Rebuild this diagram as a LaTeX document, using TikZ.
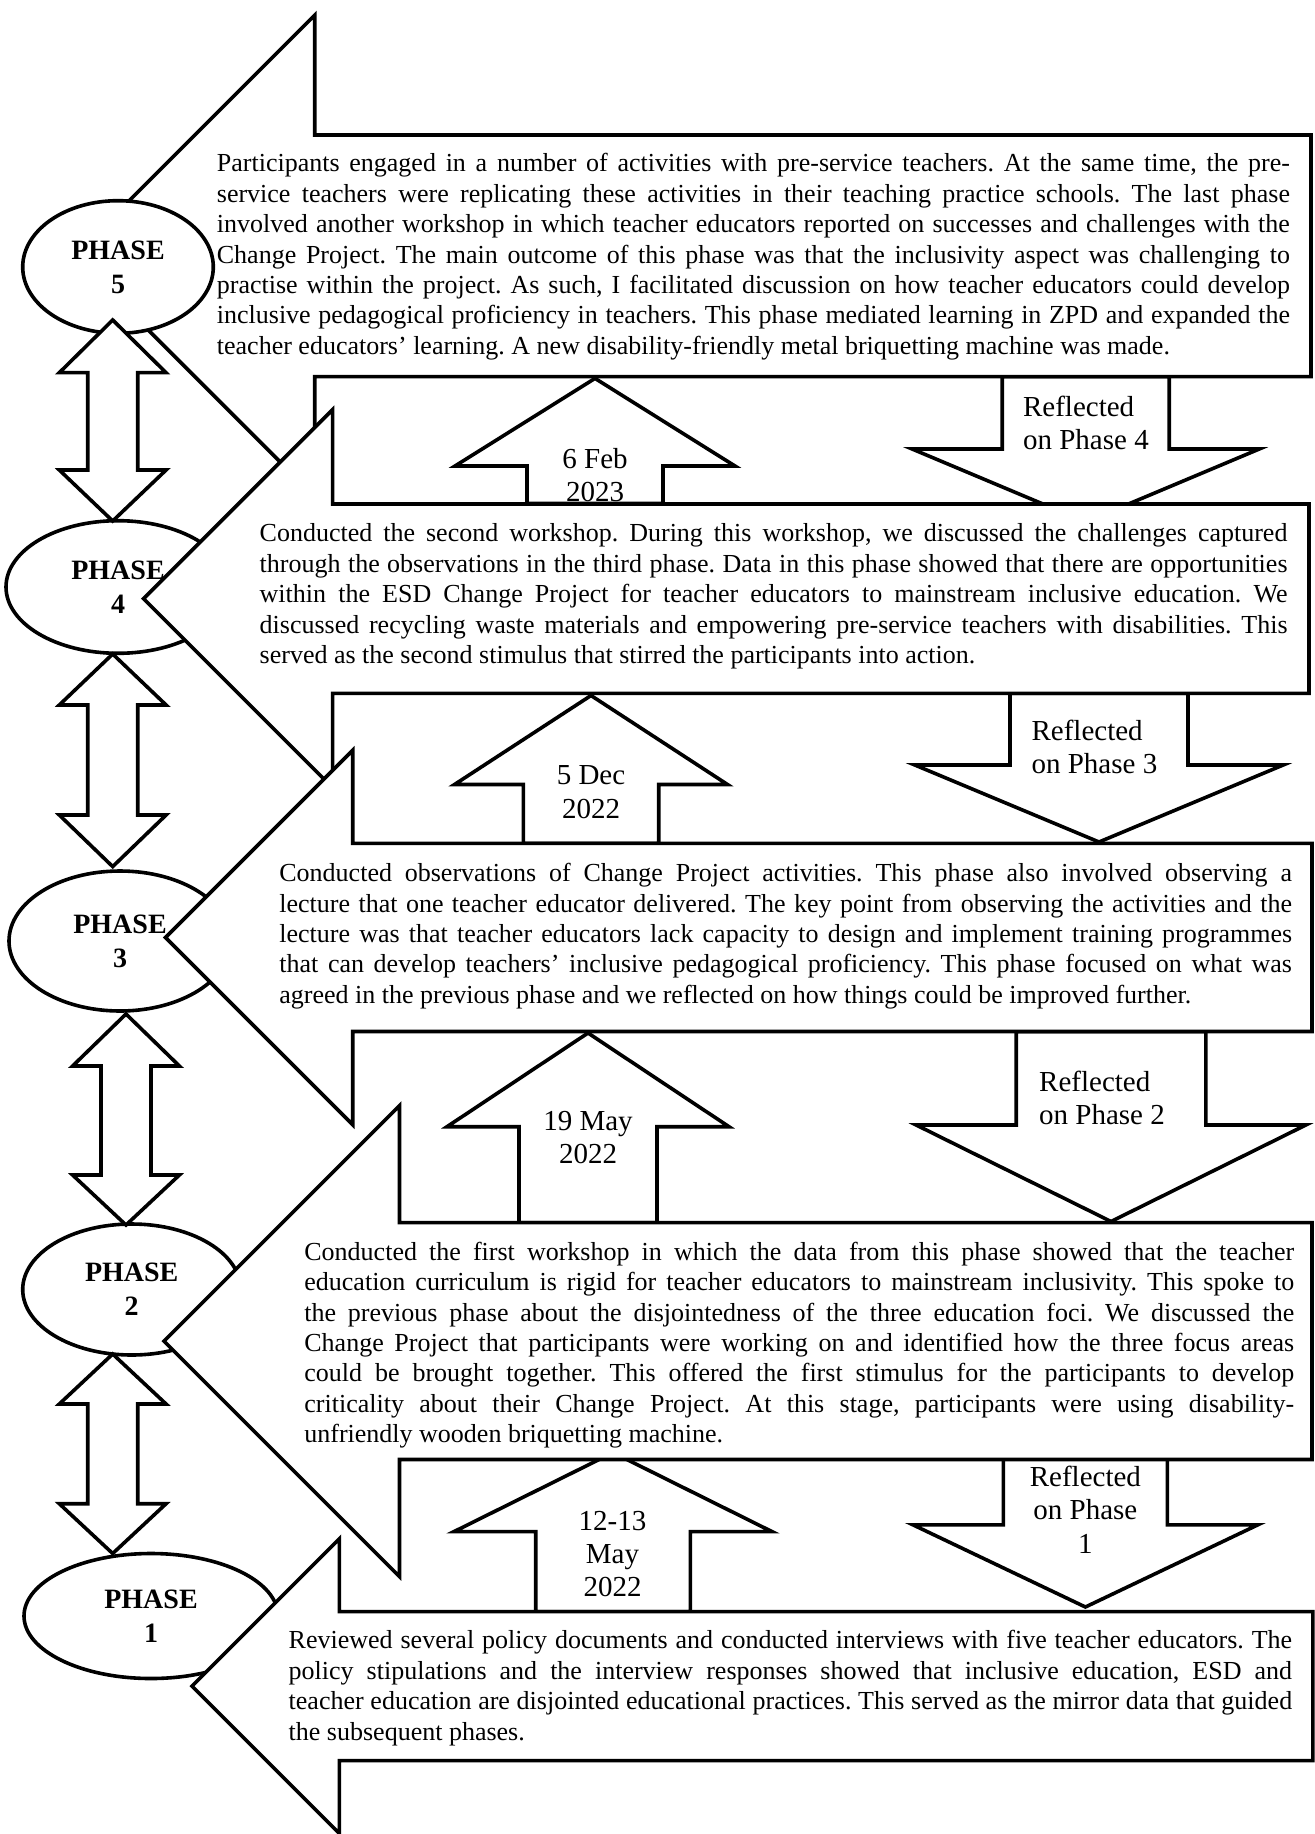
\documentclass[tikz,border=0pt]{standalone}
\usepackage{fontspec}
\setmainfont{Liberation Serif}
\usetikzlibrary{shapes.geometric}

\tikzset{
  shape line/.style={draw=black, fill=white, line width=1.8pt, line join=miter},
  phase/.style={ellipse, shape line, inner sep=0pt, align=center,
    font=\fontsize{14}{17}\selectfont\bfseries},
  body/.style={anchor=north west, inner sep=0pt, align=left,
    font=\fontsize{13}{15.2}\selectfont},
  tag/.style={anchor=north, inner sep=0pt, align=center,
    font=\fontsize{14.5}{16.6}\selectfont},
  tagleft/.style={anchor=north west, inner sep=0pt, align=left,
    font=\fontsize{14.5}{16.6}\selectfont},
}

% word spacing of the running text (stretchable, like a justified paragraph)
\newcommand\wordspace{\spaceskip=0.25em plus 0.75em minus 0.09em\relax
  \xspaceskip=\spaceskip}
\newlength\bw
% one justified line of a text block, \bw wide
\newcommand\jline[1]{\makebox[\bw][s]{\strut#1}\\}

% box with a left-pointing head: left, right, top, bottom, tip x
\newcommand\callout[5]{%
  \path[shape line] (#2,#3) -- (#1,#3) -- (#1,{(#3+#4)/2-(#1-#5)})
    -- (#5,{(#3+#4)/2}) -- (#1,{(#3+#4)/2+(#1-#5)}) -- (#1,#4)
    -- (#2,#4) -- cycle;}

% block arrow up: centre x, tip y, wing y, base y, half shaft, half head
\newcommand\uparr[6]{%
  \path[shape line] (#1,#2) -- ({#1+#6},#3) -- ({#1+#5},#3) -- ({#1+#5},#4)
    -- ({#1-#5},#4) -- ({#1-#5},#3) -- ({#1-#6},#3) -- cycle;}

% block arrow down: centre x, top y, wing y, tip y, half shaft, half head
\newcommand\downarr[6]{%
  \path[shape line] ({#1-#5},#2) -- ({#1+#5},#2) -- ({#1+#5},#3) -- ({#1+#6},#3)
    -- (#1,#4) -- ({#1-#6},#3) -- ({#1-#5},#3) -- cycle;}

% two-headed vertical arrow: centre x, top tip, top wing y, bottom wing y, bottom tip
\newcommand\twoway[5]{%
  \path[shape line] (#1,#2) -- ({#1+53.4},#3) -- ({#1+25},#3) -- ({#1+25},#4)
    -- ({#1+53.4},#4) -- (#1,#5) -- ({#1-53.4},#4) -- ({#1-25},#4)
    -- ({#1-25},#3) -- ({#1-53.4},#3) -- cycle;}

\begin{document}
\frenchspacing
\begin{tikzpicture}[x=0.5pt, y=-0.5pt]
\useasboundingbox (0,0) rectangle (1314,1834);
\fill[white] (0,0) rectangle (1314,1834);

% ---- date arrows (up) and reflection arrows (down) between the boxes
\uparr{595}{378.4}{466}{503.4}{68}{140}
\node[tag] (d5) at (595,444.5) {\wordspace\strut 6 Feb\\\strut 2023};
\downarr{1085.7}{376.6}{449}{522}{83.5}{173.6}
\node[tagleft] (r4) at (1022.7,393) {\wordspace\strut Reflected\\\strut on Phase 4};

\uparr{591}{695.5}{784.5}{843.4}{67.7}{136.5}
\node[tag] (d4) at (591,761.3) {\wordspace\strut 5 Dec\\\strut 2022};
\downarr{1099}{693.4}{765}{842}{89}{184.2}
\node[tagleft] (r3) at (1031.2,717) {\wordspace\strut Reflected\\\strut on Phase 3};

\uparr{588}{1033}{1126.7}{1222.6}{69}{141}
\node[tag] (d3) at (588,1106.8) {\wordspace\strut 19 May\\\strut 2022};
\downarr{1111}{1031.5}{1125}{1221.5}{94.8}{194.8}
\node[tagleft] (r2) at (1038.8,1068) {\wordspace\strut Reflected\\\strut on Phase 2};

\uparr{613}{1452.6}{1531.6}{1611.6}{77.3}{159}
\node[tag] (d2) at (612.5,1506.7) {\wordspace\strut 12-13\\\strut May\\\strut 2022};
\downarr{1085.4}{1458.4}{1524.8}{1607}{82}{172.5}
\node[tag] (r1) at (1085.4,1463) {\wordspace\strut Reflected\\\strut on Phase\\\strut 1};

% ---- phase 5
\callout{314.7}{1311}{135}{376.6}{74}
\node[body, text width=536.5pt] (t5) at (216.5,150.2) {\bw=536.5pt\wordspace
\jline{Participants engaged in a number of activities with pre-service teachers. At the same time, the pre-}
\jline{service teachers were replicating these activities in their teaching practice schools. The last phase}
\jline{involved another workshop in which teacher educators reported on successes and challenges with the}
\jline{Change Project. The main outcome of this phase was that the inclusivity aspect was challenging to}
\jline{practise within the project. As such, I facilitated discussion on how teacher educators could develop}
\jline{inclusive pedagogical proficiency in teachers. This phase mediated learning in ZPD and expanded the}
\strut teacher educators' learning. A new disability-friendly metal briquetting machine was made.};
\node[phase, minimum width=95.3pt, minimum height=66.3pt] (p5) at (118,267) {PHASE\\5};

% ---- remaining phase ellipses
\node[phase, minimum width=112pt, minimum height=66.3pt] (p4) at (118,587) {PHASE\\4};
\node[phase, minimum width=111pt, minimum height=70pt] (p3) at (120,941) {PHASE\\3};
\node[phase, minimum width=109pt, minimum height=65.5pt] (p2) at (131.7,1289.5) {PHASE\\2};
\node[phase, minimum width=127pt, minimum height=62.5pt] (p1) at (151,1616) {PHASE\\1};

% ---- two-way arrows between the phases
\twoway{112.7}{320}{372.7}{470}{521}
\twoway{112.7}{654}{705}{815}{866.6}
\twoway{126}{1014}{1066}{1175}{1225}
\twoway{112.7}{1354}{1404}{1503.7}{1553.5}

% ---- phase 4
\callout{332.6}{1309}{504}{693.4}{143.5}
\node[body, text width=513.9pt] (t4) at (259.3,520.2) {\bw=513.9pt\wordspace
\jline{Conducted the second workshop. During this workshop, we discussed the challenges captured}
\jline{through the observations in the third phase. Data in this phase showed that there are opportunities}
\jline{within the ESD Change Project for teacher educators to mainstream inclusive education. We}
\jline{discussed recycling waste materials and empowering pre-service teachers with disabilities. This}
\strut served as the second stimulus that stirred the participants into action.};

% ---- phase 3
\callout{352.7}{1312}{843.4}{1031.5}{165.5}
\node[body, text width=506.3pt] (t3) at (279,860.1) {\bw=506.3pt\wordspace
\jline{Conducted observations of Change Project activities. This phase also involved observing a}
\jline{lecture that one teacher educator delivered. The key point from observing the activities and the}
\jline{lecture was that teacher educators lack capacity to design and implement training programmes}
\jline{that can develop teachers' inclusive pedagogical proficiency. This phase focused on what was}
\strut agreed in the previous phase and we reflected on how things could be improved further.};

% ---- phase 2
\callout{399.5}{1312}{1222.6}{1459.5}{164}
\node[body, text width=494.9pt] (t2) at (304,1238.7) {\bw=494.9pt\wordspace
\jline{Conducted the first workshop in which the data from this phase showed that the teacher}
\jline{education curriculum is rigid for teacher educators to mainstream inclusivity. This spoke to}
\jline{the previous phase about the disjointedness of the three education foci. We discussed the}
\jline{Change Project that participants were working on and identified how the three focus areas}
\jline{could be brought together. This offered the first stimulus for the participants to develop}
\jline{criticality about their Change Project. At this stage, participants were using disability-}
\strut unfriendly wooden briquetting machine.};

% ---- phase 1
\callout{339.3}{1312.8}{1611.6}{1760.6}{192}
\node[body, text width=501.7pt] (t1) at (288.3,1627.1) {\bw=501.7pt\wordspace
\jline{Reviewed several policy documents and conducted interviews with five teacher educators. The}
\jline{policy stipulations and the interview responses showed that inclusive education, ESD and}
\jline{teacher education are disjointed educational practices. This served as the mirror data that guided}
\strut the subsequent phases.};

\end{tikzpicture}
\end{document}
